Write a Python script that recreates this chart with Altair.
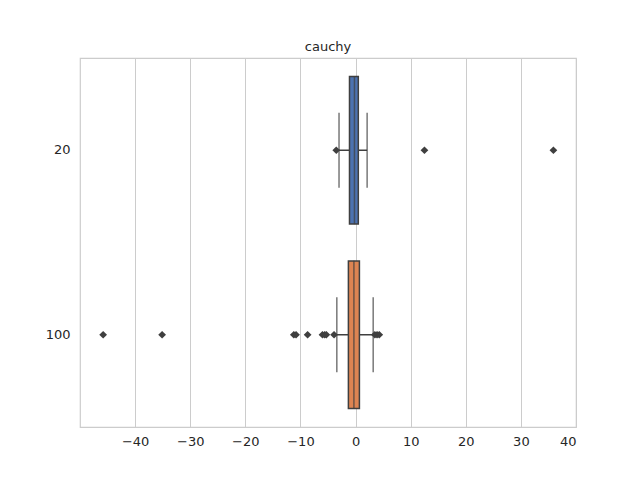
import altair as alt
import pandas as pd

groups = ["20", "100"]
q1 = [-1.1, -1.3]
median = [-0.2, -0.3]
q3 = [0.5, 0.7]
whisk_lo = [-3.0, -3.4]
whisk_hi = [2.1, 3.2]
colors = ["#4c72b0", "#dd8452"]

out_group = ["20", "20", "20",
             "100", "100", "100", "100", "100", "100", "100", "100", "100", "100", "100", "100"]
out_value = [-3.5, 12.5, 35.9,
             -45.8, -35.1, -11.2, -10.8, -8.7, -6.0, -5.6, -5.3, -3.9, 3.5, 3.9, 4.3]

edge = "#3f3f3f"

box = pd.DataFrame({"g": groups, "q1": q1, "med": median, "q3": q3,
                    "lo": whisk_lo, "hi": whisk_hi, "c": colors})
caps = pd.DataFrame({"g": groups * 2, "v": whisk_lo + whisk_hi})
outl = pd.DataFrame({"g": out_group, "v": out_value})

xs = alt.Scale(domain=[-50, 40], nice=False, zero=False)
ys = alt.Scale(domain=groups, paddingInner=0.2, paddingOuter=0.1)
yenc = alt.Y("g:N", scale=ys, title=None, sort=groups,
             axis=alt.Axis(ticks=False, domain=False, grid=False, labelFontSize=13,
                           labelColor="#262626", labelPadding=10))
xax = alt.Axis(values=list(range(-40, 41, 10)), grid=True, gridColor="#cccccc",
               ticks=False, domain=False, labelFontSize=13, labelColor="#262626",
               labelPadding=8)

base = alt.Chart(box)
whiskers = base.mark_rule(color=edge, strokeWidth=1.5).encode(
    x=alt.X("lo:Q", scale=xs, axis=xax, title=None), x2="hi:Q", y=yenc)
bars = base.mark_bar(stroke=edge, strokeWidth=1.5).encode(
    x=alt.X("q1:Q", scale=xs), x2="q3:Q", y=yenc,
    color=alt.Color("c:N", scale=None))
meds = base.mark_tick(color=edge, size=148, thickness=1.5).encode(
    x=alt.X("med:Q", scale=xs), y=yenc)
capm = alt.Chart(caps).mark_tick(color=edge, size=75, thickness=1.5).encode(
    x=alt.X("v:Q", scale=xs), y=yenc)
pts = alt.Chart(outl).mark_point(shape="diamond", filled=True, color=edge,
                                 size=60, opacity=1).encode(
    x=alt.X("v:Q", scale=xs), y=yenc)

chart = (whiskers + bars + meds + capm + pts).properties(
    width=496, height=369, autosize="none",
    padding={"left": 72, "top": 50, "right": 56, "bottom": 45},
    title=alt.Title("cauchy", fontSize=13, fontWeight="normal", color="#262626"),
).configure(
    font="DejaVu Sans", background="white"
).configure_view(stroke="#cccccc", strokeWidth=1.2)

chart.save("out.html", embed_options={"renderer": "svg", "actions": False})
